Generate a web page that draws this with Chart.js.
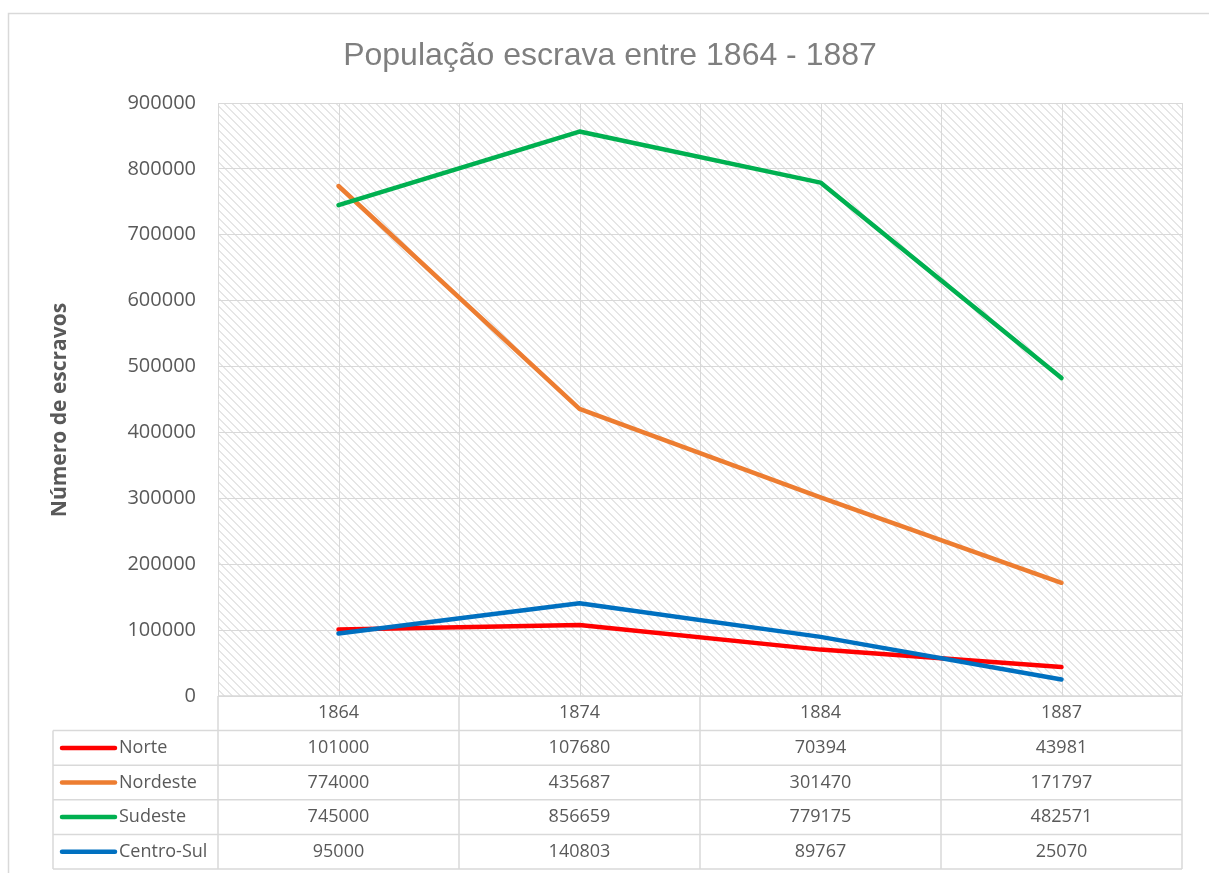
<!DOCTYPE html>
<html>
<head>
<meta charset="utf-8">
<title>População escrava entre 1864 - 1887</title>
<script src="https://cdn.jsdelivr.net/npm/chart.js@4.4.1/dist/chart.umd.min.js"></script>
<style>
  html, body { margin: 0; padding: 0; background: #fff; }
  canvas { display: block; }
</style>
</head>
<body>
<canvas id="slaveChart" width="1209" height="873"></canvas>
<script>
const years = ["1864", "1874", "1884", "1887"];
const regions = ["Norte", "Nordeste", "Sudeste", "Centro-Sul"];
const norte = [101000, 107680, 70394, 43981];
const nordeste = [774000, 435687, 301470, 171797];
const sudeste = [745000, 856659, 779175, 482571];
const centroSul = [95000, 140803, 89767, 25070];
const regionColors = ["#FF0000", "#ED7D31", "#00B050", "#0070C0"];
const yMax = 900000;
const yStep = 100000;
const chartTitle = "População escrava entre 1864 - 1887";
const yTitle = "Número de escravos";

const seriesValues = [norte, nordeste, sudeste, centroSul];
const textFont = "'Open Sans', 'Noto Sans', sans-serif";
const gridColor = "#d9d9d9";

function makeHatch(ctx) {
    const tile = document.createElement("canvas");
    tile.width = 8;
    tile.height = 8;
    const t = tile.getContext("2d");
    t.fillStyle = "#ffffff";
    t.fillRect(0, 0, 8, 8);
    t.fillStyle = "#e6e6e6";
    for (let i = 0; i < 8; i++) {
        t.fillRect(i, i, 1, 1);
        t.fillRect((i + 1) % 8, i, 1, 1);
    }
    return ctx.createPattern(tile, "repeat");
}

const excelLook = {
    id: "excelLook",
    beforeDraw(chart) {
        const { ctx, chartArea: a } = chart;
        ctx.save();
        ctx.fillStyle = "#ffffff";
        ctx.fillRect(0, 0, chart.width, chart.height);
        // outer chart border
        ctx.strokeStyle = gridColor;
        ctx.lineWidth = 1.5;
        ctx.strokeRect(8.5, 13.5, chart.width + 10, chart.height + 10);
        // hatched plot area
        ctx.fillStyle = makeHatch(ctx);
        ctx.fillRect(a.left, a.top, a.right - a.left, a.bottom - a.top);

        // chart title, centred on the outer frame
        ctx.fillStyle = "#7f7f7f";
        ctx.font = "32px 'Liberation Sans', Arial, sans-serif";
        ctx.textAlign = "center";
        ctx.textBaseline = "middle";
        ctx.fillText(chartTitle, 610, 56);

        // value axis title
        ctx.translate(60, 410);
        ctx.rotate(-Math.PI / 2);
        ctx.fillStyle = "#595959";
        ctx.font = "bold 21px " + textFont;
        ctx.fillText(yTitle, 0, 0);
        ctx.restore();
    },
    beforeDatasetsDraw(chart) {
        // extra vertical lines through the category centres
        const { ctx, chartArea: a, scales: { x } } = chart;
        ctx.save();
        ctx.strokeStyle = gridColor;
        ctx.lineWidth = 1;
        years.forEach((y, i) => {
            const px = Math.round(x.getPixelForTick(i)) + 0.5;
            ctx.beginPath();
            ctx.moveTo(px, a.top);
            ctx.lineTo(px, a.bottom);
            ctx.stroke();
        });
        ctx.restore();
    },
    afterDraw(chart) {
        // data table under the plot
        const { ctx, chartArea: a, scales: { x } } = chart;
        const top = a.bottom;
        const rowH = 34.6;
        const labelLeft = 53;
        const bottom = top + rowH * (regions.length + 1);

        ctx.save();
        ctx.strokeStyle = gridColor;
        ctx.lineWidth = 1.5;

        for (let k = 1; k <= regions.length + 1; k++) {
            const y = top + k * rowH;
            ctx.beginPath();
            ctx.moveTo(labelLeft, y);
            ctx.lineTo(a.right, y);
            ctx.stroke();
        }
        ctx.beginPath();
        ctx.moveTo(a.left, top);
        ctx.lineTo(a.right, top);
        ctx.stroke();

        ctx.beginPath();
        ctx.moveTo(labelLeft, top + rowH);
        ctx.lineTo(labelLeft, bottom);
        ctx.stroke();

        const cuts = [a.left];
        for (let i = 0; i < years.length - 1; i++) {
            cuts.push((x.getPixelForTick(i) + x.getPixelForTick(i + 1)) / 2);
        }
        cuts.push(a.right);
        cuts.forEach(cx => {
            ctx.beginPath();
            ctx.moveTo(cx, top);
            ctx.lineTo(cx, bottom);
            ctx.stroke();
        });

        ctx.fillStyle = "#595959";
        ctx.font = "18px " + textFont;
        ctx.textBaseline = "middle";
        ctx.textAlign = "center";
        years.forEach((yr, i) => {
            ctx.fillText(yr, x.getPixelForTick(i), top + rowH / 2);
        });

        regions.forEach((name, r) => {
            const cy = top + (r + 1.5) * rowH;
            ctx.strokeStyle = regionColors[r];
            ctx.lineWidth = 4.5;
            ctx.lineCap = "round";
            ctx.beginPath();
            ctx.moveTo(labelLeft + 9, cy);
            ctx.lineTo(labelLeft + 62, cy);
            ctx.stroke();

            ctx.fillStyle = "#595959";
            ctx.textAlign = "left";
            ctx.fillText(name, labelLeft + 66, cy);
            ctx.textAlign = "center";
            seriesValues[r].forEach((v, i) => {
                ctx.fillText(String(v), x.getPixelForTick(i), cy);
            });
        });
        ctx.restore();
    }
};

new Chart(document.getElementById("slaveChart").getContext("2d"), {
    type: "line",
    data: {
        labels: years,
        datasets: regions.map((name, i) => ({
            label: name,
            data: seriesValues[i],
            borderColor: regionColors[i],
            backgroundColor: regionColors[i],
            borderWidth: 4.5,
            borderCapStyle: "round",
            borderJoinStyle: "round",
            pointRadius: 0,
            tension: 0,
            order: regions.length - i
        }))
    },
    options: {
        responsive: false,
        animation: false,
        devicePixelRatio: 1,
        layout: { padding: { left: 0, right: 27, top: 103, bottom: 0 } },
        plugins: {
            legend: { display: false },
            tooltip: { enabled: false },
            title: { display: false }
        },
        scales: {
            x: {
                type: "category",
                offset: true,
                ticks: { display: false },
                grid: { offset: true, color: gridColor, drawTicks: false },
                border: { display: false },
                afterFit(scale) { scale.height = 177; }
            },
            y: {
                min: 0,
                max: yMax,
                ticks: {
                    stepSize: yStep,
                    color: "#595959",
                    padding: 22,
                    font: { family: textFont, size: 20 },
                    callback: v => String(v)
                },
                grid: { color: gridColor, drawTicks: false },
                border: { display: false },
                afterFit(scale) { scale.width = 218; }
            }
        }
    },
    plugins: [excelLook]
});
</script>
</body>
</html>
